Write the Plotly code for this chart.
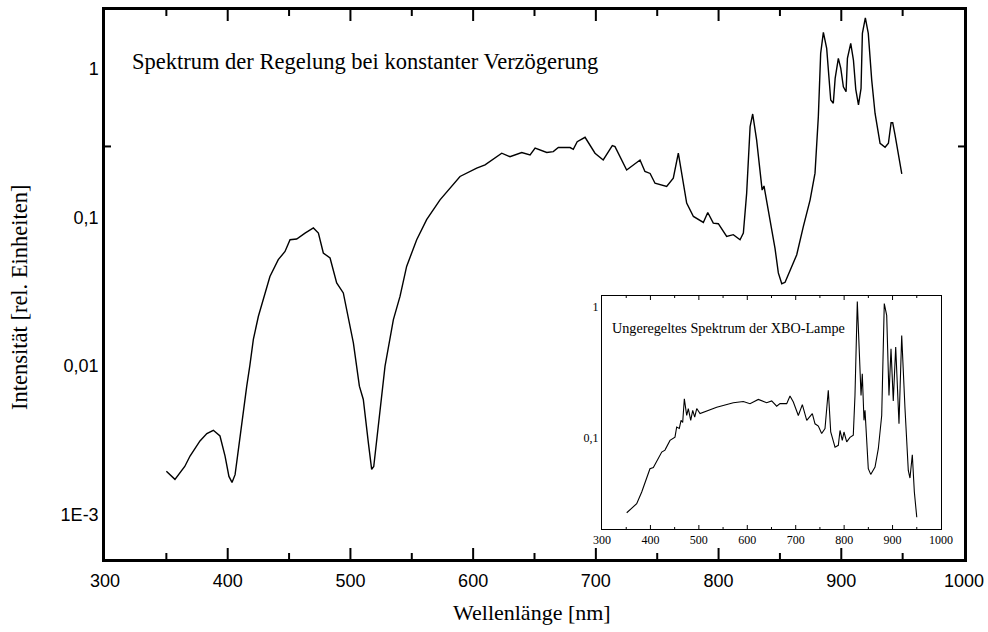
import plotly.graph_objects as go
import math

# Main spectrum (controlled, constant delay)
main_wl = [350, 357, 365, 369.3, 377.4, 383, 388.3, 393.7, 397.8, 401, 403.5, 406, 408, 412.7, 415.5,
           418, 420.9, 425, 429, 434.4, 441.2, 446.7, 450.8, 456.2, 463, 469.8, 473.9, 477.9, 483.4,
           488.8, 494.2, 498.3, 502.4, 507.3, 510.5, 514.6, 517.3, 519, 521.4, 528.2, 535, 540.4,
           545.8, 554, 562.1, 573, 589.3, 602.9, 609.7, 616, 623.3, 630, 639.6, 646.4, 650.5, 660,
           665.3, 669.4, 679, 681.6, 684.8, 691.2, 699.3, 706, 713.4, 715.6, 725.1, 736, 740, 744.2,
           748.2, 757.7, 763.1, 767.2, 771.3, 774, 779.5, 787.6, 791.2, 795.7, 799.8, 806.6, 812,
           817.5, 820.2, 822.9, 825.7, 827.8, 831, 833.8, 835.5, 837, 839.2, 843.3, 846, 848.7,
           851.5, 854.2, 858.3, 863.7, 869.1, 874.6, 878.6, 881.3, 883.2, 885.4, 888.1, 890, 891.4,
           893.5, 895, 897.6, 899.6, 901.7, 903.9, 905, 907.7, 909.9, 911.8, 914, 916.1, 917.2,
           919.6, 922, 924.8, 927.5, 930.2, 931.6, 935.7, 938.4, 940.6, 941.9, 943.8, 946, 947.9,
           949.3]
main_int = [0.00195, 0.00172, 0.0021, 0.00247, 0.00312, 0.0035, 0.00368, 0.00337, 0.00248, 0.0018,
            0.00164, 0.00185, 0.00247, 0.0051, 0.0073, 0.010, 0.0151, 0.0216, 0.028, 0.040, 0.052,
            0.059, 0.0708, 0.0716, 0.0785, 0.085, 0.0785, 0.0576, 0.0533, 0.0362, 0.031, 0.0216,
            0.0143, 0.0073, 0.00594, 0.00304, 0.00201, 0.0021, 0.0032, 0.00995, 0.0205, 0.0294,
            0.0468, 0.0708, 0.0966, 0.1315, 0.189, 0.215, 0.226, 0.245, 0.271, 0.257, 0.274, 0.264,
            0.293, 0.274, 0.278, 0.296, 0.296, 0.288, 0.324, 0.347, 0.271, 0.244, 0.305, 0.30, 0.209,
            0.244, 0.204, 0.198, 0.170, 0.162, 0.184, 0.271, 0.166, 0.125, 0.1016, 0.0926, 0.108,
            0.0917, 0.0908, 0.0745, 0.0766, 0.0708, 0.0785, 0.146, 0.409, 0.498, 0.333, 0.209, 0.153,
            0.163, 0.13, 0.087, 0.062, 0.0423, 0.0358, 0.0366, 0.0445, 0.0561, 0.087, 0.1315, 0.199,
            0.478, 1.275, 1.766, 1.378, 0.888, 0.619, 0.588, 0.865, 1.18, 1.01, 0.76, 0.703, 1.18,
            1.49, 1.15, 0.73, 0.573, 0.74, 1.74, 2.21, 1.74, 0.843, 0.504, 0.37, 0.316, 0.297, 0.316,
            0.435, 0.435, 0.36, 0.288, 0.232, 0.197]

# Inset: uncontrolled spectrum of the XBO lamp
inset_wl = [351, 371.6, 382, 399, 406, 423.3, 430, 440.4, 450.7, 454.2, 459.6, 463.2, 466.6, 470,
            474.9, 478.2, 483.2, 487.3, 491.4, 495.6, 502.4, 536.9, 571.2, 591.8, 605.6, 622.8, 640,
            650.4, 660.7, 667.6, 681.4, 688.2, 695.1, 705.4, 713.7, 722.8, 734.3, 739.9, 746.7,
            753.6, 760.5, 767.3, 772.3, 781.2, 788, 791.5, 796.2, 799.7, 805.3, 812.1, 818.9, 822.4,
            827.2, 830.7, 834.9, 837.5, 841, 843.1, 849.9, 854.9, 863.8, 870.6, 877.6, 882.9, 887.9,
            892.6, 896.8, 901.5, 906.5, 913.3, 918.9, 925.7, 932.5, 936, 940.8, 945, 950]
inset_int = [0.0266, 0.0312, 0.0383, 0.0577, 0.059, 0.0773, 0.080, 0.0949, 0.1004, 0.12, 0.117,
             0.135, 0.13, 0.197, 0.147, 0.166, 0.135, 0.161, 0.143, 0.166, 0.152, 0.170, 0.184,
             0.188, 0.181, 0.195, 0.184, 0.19, 0.173, 0.181, 0.181, 0.207, 0.186, 0.147, 0.178,
             0.135, 0.152, 0.127, 0.122, 0.107, 0.117, 0.229, 0.11, 0.0843, 0.087, 0.113, 0.0949,
             0.11, 0.0925, 0.1, 0.104, 0.209, 1.09, 0.583, 0.209, 0.306, 0.135, 0.161, 0.0577,
             0.0522, 0.0594, 0.082, 0.147, 1.05, 0.854, 0.209, 0.475, 0.19, 0.49, 0.127, 0.6, 0.166,
             0.056, 0.049, 0.0738, 0.0383, 0.0246]

main_yticks = [0.001, 0.01, 0.1, 1]
main_yticktext = ["1E-3", "0,01", "0,1", "1"]
x_ticks = [300, 400, 500, 600, 700, 800, 900, 1000]
x_ticktext = ["300", "400", "500", "600", "700", "800", "900", "1000"]
x_minor = [350, 450, 550, 650, 750, 850, 950]
inset_yticks = [0.1, 1]
inset_yticktext = ["0,1", "1"]

title_main = "Spektrum der Regelung bei konstanter Verzögerung"
title_inset = "Ungeregeltes Spektrum der XBO-Lampe"
x_title = "Wellenlänge [nm]"
y_title = "Intensität [rel. Einheiten]"

sans = "Liberation Sans, Arial, sans-serif"
serif = "Liberation Serif, Times New Roman, serif"

MAIN_X = [300, 1000]
MAIN_Y = [math.log10(5e-4), math.log10(2.5)]
INS_Y = [math.log10(0.02), math.log10(1.2)]


def log_minor(lo_exp, hi_exp, log_range):
    vals = []
    for e in range(lo_exp, hi_exp + 1):
        for k in range(2, 10):
            v = k * 10 ** e
            if log_range[0] < math.log10(v) < log_range[1]:
                vals.append(v)
    return vals


def x_tick_marks(xref, ydom, vals, length, width):
    """Inward ticks on bottom and top edges, positioned by the x axis scale."""
    out = []
    for v in vals:
        for anchor, sign in ((0, 1), (1, -1)):
            out.append(dict(type="line", xref=xref, yref=ydom, x0=v, x1=v,
                            ysizemode="pixel", yanchor=anchor, y0=0, y1=sign * length,
                            line=dict(color="black", width=width), layer="above"))
    return out


def y_tick_marks(xdom, yref, vals, length, width):
    """Inward ticks on left and right edges (log axis -> log10 positions)."""
    out = []
    for v in vals:
        lv = math.log10(v)
        for anchor, sign in ((0, 1), (1, -1)):
            out.append(dict(type="line", xref=xdom, yref=yref, y0=lv, y1=lv,
                            xsizemode="pixel", xanchor=anchor, x0=0, x1=sign * length,
                            line=dict(color="black", width=width), layer="above"))
    return out


fig = go.Figure()
fig.add_trace(go.Scatter(x=main_wl, y=main_int, mode="lines",
                         line=dict(color="black", width=1.4), showlegend=False,
                         xaxis="x", yaxis="y"))
fig.add_trace(go.Scatter(x=inset_wl, y=inset_int, mode="lines",
                         line=dict(color="black", width=1.1), showlegend=False,
                         xaxis="x2", yaxis="y2"))
# invisible carrier for the label strip under the main plot
fig.add_trace(go.Scatter(x=main_wl, y=main_int, mode="lines", line=dict(width=0),
                         opacity=0, showlegend=False, hoverinfo="skip",
                         xaxis="x3", yaxis="y3"))

shapes = []
shapes += x_tick_marks("x", "y domain", x_ticks[1:-1], 11, 2)
shapes += x_tick_marks("x", "y domain", x_minor, 6, 2)
shapes += y_tick_marks("x domain", "y", main_yticks, 11, 2)
shapes += y_tick_marks("x domain", "y", log_minor(-4, 0, MAIN_Y), 6, 2)
shapes += x_tick_marks("x2", "y2 domain", x_ticks[1:-1], 4, 1)
shapes += x_tick_marks("x2", "y2 domain", x_minor, 2, 1)
shapes += y_tick_marks("x2 domain", "y2", inset_yticks, 4, 1)
shapes += y_tick_marks("x2 domain", "y2", log_minor(-2, 0, INS_Y), 2, 1)

H = 632.0


def py(pix):
    return (H - pix) / H


def frame(big, **kw):
    d = dict(showline=True, linecolor="black", mirror=True, ticks="",
             showgrid=False, zeroline=False, tickmode="array")
    if big:
        d.update(linewidth=2.5, tickfont=dict(family=sans, size=18, color="black"))
    else:
        d.update(linewidth=1, tickfont=dict(family=serif, size=12, color="black"))
    d.update(kw)
    return d


fig.update_layout(
    template="none",
    width=988, height=632,
    margin=dict(l=105, r=24, t=0, b=0),
    paper_bgcolor="white", plot_bgcolor="rgba(0,0,0,0)",
    showlegend=False,
    shapes=shapes,
    # main plot
    xaxis=frame(True, domain=[0, 1], range=MAIN_X, tickvals=x_ticks,
                ticktext=x_ticktext, showticklabels=False, anchor="y"),
    yaxis=frame(True, domain=[py(559), py(10)], type="log", range=MAIN_Y,
                tickvals=main_yticks, ticktext=main_yticktext, anchor="x"),
    # label strip carrying the main x tick labels
    xaxis3=dict(domain=[0, 1], anchor="y3", range=MAIN_X, tickmode="array",
                tickvals=x_ticks, ticktext=x_ticktext, ticks="", showline=False,
                showgrid=False, zeroline=False,
                tickfont=dict(family=sans, size=18, color="black")),
    yaxis3=dict(domain=[py(568), py(567)], anchor="x3", range=[0, 1], visible=False,
                showgrid=False, zeroline=False),
    # inset
    xaxis2=frame(False, domain=[0.5786, 0.9732], anchor="y2", range=MAIN_X,
                 tickvals=x_ticks, ticktext=x_ticktext),
    yaxis2=frame(False, domain=[py(529), py(296)], anchor="x2", type="log", range=INS_Y,
                 tickvals=inset_yticks, ticktext=inset_yticktext),
    annotations=[
        dict(text=title_main, xref="paper", yref="paper", x=0.0291, y=py(62),
             xanchor="left", yanchor="middle", showarrow=False,
             font=dict(family=serif, size=22.5, color="black")),
        dict(text=title_inset, xref="paper", yref="paper", x=0.588, y=py(328),
             xanchor="left", yanchor="middle", showarrow=False,
             font=dict(family=serif, size=14.2, color="black")),
        dict(text=x_title, xref="paper", yref="paper", x=0.497, y=py(612),
             xanchor="center", yanchor="middle", showarrow=False,
             font=dict(family=serif, size=22, color="black")),
        dict(text=y_title, xref="paper", yref="paper", x=-0.099, y=py(297),
             xanchor="center", yanchor="middle", showarrow=False, textangle=-90,
             font=dict(family=serif, size=22.5, color="black")),
    ],
)

fig.write_html("out.html")
